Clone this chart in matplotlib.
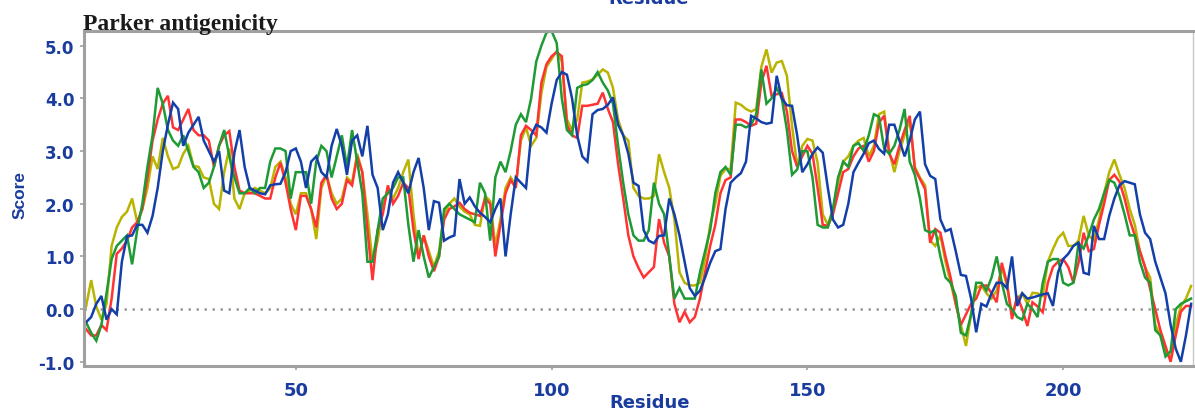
import numpy as np
import matplotlib
matplotlib.use("Agg")
import matplotlib.pyplot as plt

# Parker antigenicity profiles for four sequence variants (residues 9-225)
residues = np.arange(9, 226)

score_olive = [
    0.05, 0.55, 0.05, -0.2, 0.1, 1.2, 1.55, 1.75, 1.85, 2.1,
    1.65, 1.9, 2.3, 2.9, 2.66, 3.25, 2.9, 2.66, 2.7, 2.95,
    3.1, 2.72, 2.7, 2.5, 2.47, 2.0, 1.9, 2.6, 3.05, 2.1,
    1.9, 2.2, 2.25, 2.3, 2.25, 2.2, 2.3, 2.7, 2.8, 2.5,
    2.0, 1.8, 2.2, 2.2, 1.9, 1.33, 2.3, 2.55, 2.2, 2.0,
    2.1, 2.5, 2.4, 2.95, 2.6, 1.8, 0.9, 1.3, 1.9, 2.3,
    2.1, 2.3, 2.6, 2.84, 1.8, 1.0, 1.4, 1.1, 0.8, 1.1,
    1.8, 2.0, 2.1, 1.95, 1.85, 1.8, 1.6, 1.58, 2.15, 2.05,
    1.2, 1.7, 2.3, 2.5, 2.35, 3.2, 3.45, 3.1, 3.25, 4.1,
    4.6, 4.75, 4.9, 4.7, 3.6, 3.4, 3.6, 4.3, 4.32, 4.36,
    4.45, 4.55, 4.49, 4.2, 3.6, 3.3, 3.2, 2.3, 2.15, 2.1,
    2.1, 2.15, 2.94, 2.6, 2.3, 1.7, 0.7, 0.5, 0.45, 0.45,
    0.5, 0.95, 1.6, 2.0, 2.53, 2.66, 2.66, 3.92, 3.88, 3.8,
    3.75, 3.8, 4.6, 4.93, 4.49, 4.68, 4.71, 4.43, 3.48, 2.72,
    3.1, 3.23, 3.2, 2.78, 1.8, 1.6, 1.9, 2.4, 2.8, 2.9,
    3.1, 3.2, 3.25, 2.9, 3.1, 3.7, 3.75, 3.0, 2.6, 3.0,
    3.3, 3.6, 2.7, 2.5, 2.35, 1.3, 1.2, 1.4, 0.9, 0.5,
    0.1, -0.3, -0.7, -0.1, 0.4, 0.45, 0.3, 0.2, 0.35, 0.8,
    0.45, -0.1, 0.2, 0.3, 0.1, 0.31, 0.3, 0.25, 0.9, 1.14,
    1.35, 1.45, 1.2, 1.2, 1.3, 1.77, 1.4, 1.3, 1.7, 2.2,
    2.6, 2.84, 2.55, 2.3, 1.9, 1.6, 1.1, 0.8, 0.6, -0.3,
    -0.5, -0.8, -0.95, -0.3, 0.05, 0.2, 0.44,
]

score_red = [
    -0.38, -0.5, -0.5, -0.3, -0.4, 0.2, 1.05, 1.15, 1.3, 1.55,
    1.65, 1.9, 2.5, 3.2, 3.6, 3.9, 4.05, 3.45, 3.4, 3.6,
    3.8, 3.4, 3.3, 3.3, 3.2, 2.7, 3.1, 3.3, 3.38, 2.7,
    2.25, 2.2, 2.2, 2.2, 2.15, 2.1, 2.1, 2.5, 2.78, 2.4,
    1.9, 1.5, 2.15, 2.15, 1.9, 1.55, 2.4, 2.55, 2.1, 1.9,
    2.0, 2.45, 2.35, 2.9, 2.6, 1.5, 0.55, 1.5, 1.8, 2.35,
    2.0, 2.15, 2.4, 2.3, 1.5, 0.95, 1.4, 1.0, 0.72, 1.0,
    1.7, 1.9, 1.95, 2.02, 1.9, 1.83, 1.8, 1.77, 2.1, 2.0,
    1.0, 1.6, 2.2, 2.45, 2.3, 3.3, 3.48, 3.4, 3.3, 4.3,
    4.65, 4.8, 4.88, 4.8, 3.5, 3.3, 3.25, 3.86, 3.86, 3.88,
    3.9, 4.11, 3.8, 3.55, 2.75, 2.1, 1.4, 1.0, 0.78, 0.6,
    0.7, 0.8, 1.71, 1.26, 1.0, 0.1, -0.25, -0.05, -0.25, -0.15,
    0.2, 0.7, 1.2, 1.6, 2.2, 2.45, 2.5, 3.6, 3.6, 3.55,
    3.48, 3.52, 4.3, 4.62, 4.05, 4.08, 4.1, 3.75, 3.0, 2.7,
    2.9, 3.1, 2.95, 2.3, 1.6, 1.58, 1.8, 2.2, 2.6, 2.66,
    2.9, 3.05, 3.1, 2.8, 3.0, 3.54, 3.67, 2.95, 2.75, 3.1,
    3.4, 3.67, 2.66, 2.47, 2.28, 1.26, 1.52, 1.45, 1.0, 0.6,
    0.1, -0.3, -0.1, 0.1, 0.2, 0.44, 0.45, 0.3, 0.13, 0.88,
    0.5, -0.19, 0.25, 0.0, -0.32, 0.13, 0.05, -0.06, 0.5, 0.8,
    0.9, 0.95, 0.8, 0.5, 0.88, 1.45, 1.1, 1.14, 1.6, 2.0,
    2.45, 2.55, 2.42, 2.1, 1.7, 1.4, 1.1, 0.8, 0.38, 0.0,
    -0.4, -0.7, -1.0, -0.5, -0.05, 0.06, 0.06,
]

score_green = [
    -0.25, -0.45, -0.6, -0.3, 0.3, 0.95, 1.2, 1.3, 1.4, 0.85,
    1.5, 2.0, 2.7, 3.3, 4.2, 3.9, 3.4, 3.2, 3.1, 3.3,
    3.0, 2.7, 2.6, 2.3, 2.4, 2.7, 3.1, 3.4, 2.9, 2.5,
    2.2, 2.2, 2.3, 2.2, 2.3, 2.3, 2.8, 3.05, 3.05, 3.0,
    2.1, 2.6, 2.6, 2.6, 2.0, 2.8, 3.1, 3.0, 2.5, 2.9,
    3.3, 2.7, 3.4, 2.8, 2.2, 0.9, 0.9, 1.5, 2.1, 2.2,
    2.3, 2.5, 2.5, 1.6, 0.9, 1.5, 1.0, 0.6, 0.8, 1.0,
    1.9, 2.0, 1.9, 1.8, 1.75, 1.7, 1.65, 2.4, 2.2, 1.3,
    2.5, 2.8, 2.6, 3.0, 3.5, 3.7, 3.55, 4.0, 4.7, 5.0,
    5.25, 5.28, 5.05, 4.0, 3.4, 3.3, 4.2, 4.25, 4.27, 4.35,
    4.5, 4.3, 4.15, 3.9, 3.1, 2.4, 1.8, 1.4, 1.3, 1.3,
    1.5, 2.4, 2.0, 1.8, 1.0, 0.2, 0.4, 0.2, 0.2, 0.2,
    0.7, 1.1, 1.5, 2.2, 2.6, 2.7, 2.55, 3.5, 3.5, 3.45,
    3.5, 3.7, 4.55, 3.9, 4.0, 4.2, 4.0, 3.4, 2.55, 2.65,
    3.0, 3.0, 2.5, 1.6, 1.55, 1.55, 1.9, 2.5, 2.8, 2.7,
    3.1, 3.15, 3.0, 3.3, 3.7, 3.65, 3.05, 2.95, 3.1, 3.4,
    3.8, 2.8, 2.55, 2.1, 1.5, 1.45, 1.5, 1.0, 0.6, 0.5,
    0.25, -0.45, -0.5, -0.1, 0.5, 0.5, 0.35, 0.6, 1.0, 0.5,
    0.1, 0.0, -0.15, -0.2, 0.1, 0.0, -0.15, 0.5, 0.9, 0.95,
    0.95, 0.5, 0.45, 0.5, 1.25, 1.15, 1.4, 1.7, 1.9, 2.2,
    2.45, 2.4, 2.15, 1.8, 1.4, 1.4, 0.9, 0.6, 0.5, -0.4,
    -0.5, -0.9, -0.8, 0.0, 0.1, 0.15, 0.2,
]

score_blue = [
    -0.25, -0.15, 0.1, 0.25, -0.2, 0.0, -0.1, 0.9, 1.38, 1.4,
    1.6, 1.6, 1.45, 1.77, 2.3, 3.0, 3.5, 3.92, 3.8, 3.1,
    3.35, 3.5, 3.65, 3.2, 3.0, 2.8, 3.0, 2.25, 2.2, 2.97,
    3.4, 2.7, 2.3, 2.25, 2.2, 2.18, 2.35, 2.37, 2.38, 2.6,
    3.0, 3.05, 2.8, 2.3, 2.8, 2.9, 2.6, 2.5, 3.1, 3.42,
    3.1, 2.55, 3.2, 3.3, 2.9, 3.48, 2.55, 2.3, 1.5, 1.8,
    2.4, 2.6, 2.4, 2.2, 2.6, 2.87, 2.3, 1.5, 2.05, 2.02,
    1.3, 1.36, 1.4, 2.47, 2.0, 2.12, 1.95, 1.83, 1.75, 1.65,
    1.9, 2.1, 1.0, 1.8, 2.5, 2.4, 2.3, 3.3, 3.5, 3.45,
    3.35, 3.9, 4.35, 4.5, 4.45, 4.0, 3.3, 2.9, 2.8, 3.7,
    3.78, 3.8, 3.88, 4.02, 3.5, 3.3, 2.95, 2.4, 2.34, 1.5,
    1.3, 1.25, 1.39, 1.4, 2.1, 1.8, 1.4, 0.9, 0.4, 0.25,
    0.35, 0.6, 0.88, 1.1, 1.14, 1.9, 2.4, 2.5, 2.58, 2.8,
    3.67, 3.62, 3.55, 3.52, 3.54, 4.43, 4.0, 3.87, 3.86, 3.3,
    2.6, 2.75, 2.95, 3.07, 2.97, 2.3, 1.7, 1.55, 1.6, 2.0,
    2.6, 2.78, 2.95, 3.15, 3.2, 3.04, 2.95, 3.5, 3.5, 3.2,
    2.9, 3.2, 3.6, 3.75, 2.75, 2.53, 2.47, 1.7, 1.48, 1.52,
    1.1, 0.65, 0.63, 0.2, -0.44, 0.1, 0.05, 0.3, 0.5, 0.5,
    0.4, 1.0, 0.06, 0.3, 0.2, 0.22, 0.25, 0.28, 0.3, 0.06,
    0.7, 0.95, 1.05, 1.2, 1.26, 0.69, 0.66, 1.58, 1.33, 1.33,
    1.77, 2.1, 2.35, 2.43, 2.4, 2.37, 1.8, 1.45, 1.33, 0.9,
    0.6, 0.3, -0.3, -0.75, -1.0, -0.5, 0.1,
]

series = [
    (score_olive, "#b8b400"),
    (score_red, "#ff3333"),
    (score_green, "#1f9a35"),
    (score_blue, "#1340a8"),
]

xticks = [50, 100, 150, 200]
yticks = [-1.0, 0.0, 1.0, 2.0, 3.0, 4.0, 5.0]

label_blue = "#1a3c9e"
frame_grey = "#a0a0a0"
label_font = "DejaVu Sans"

fig = plt.figure(figsize=(11.95, 4.14), dpi=100)
ax = fig.add_axes([0.0703, 0.1135, 0.9277, 0.8092])

# dotted baseline at zero
ax.axhline(0.0, color="#9a9a9a", lw=1.8, linestyle=(0, (1, 2.2)), zorder=1)

for values, colour in series:
    ax.plot(residues, values, color=colour, lw=1.8, solid_joinstyle="miter", zorder=2)

ax.set_xlim(8.6, 225.3)
ax.set_ylim(-1.08, 5.28)

ax.set_xticks(xticks)
ax.set_xticklabels([str(t) for t in xticks])
ax.set_yticks(yticks)
ax.set_yticklabels(["%.1f" % t for t in yticks])

for lab in ax.get_xticklabels():
    lab.set_fontfamily(label_font)
    lab.set_fontweight("bold")
    lab.set_fontsize(13)
    lab.set_color(label_blue)
for lab in ax.get_yticklabels():
    lab.set_fontfamily(label_font)
    lab.set_fontweight("bold")
    lab.set_fontsize(12)
    lab.set_color(label_blue)

ax.tick_params(axis="both", direction="out", length=3, width=1.2, color=frame_grey)
ax.tick_params(axis="x", pad=8)
ax.tick_params(axis="y", pad=4)

for side in ["left", "top", "bottom"]:
    ax.spines[side].set_color(frame_grey)
    ax.spines[side].set_linewidth(2.2)
ax.spines["right"].set_color("#c8c8c8")
ax.spines["right"].set_linewidth(1.0)

ax.set_xlabel("Residue", fontfamily=label_font, fontweight="bold", fontsize=13,
              color=label_blue, va="center")
ax.xaxis.set_label_coords(0.51, -0.108)
ax.set_ylabel("Score", fontfamily="Liberation Sans", fontweight="bold", fontsize=12.5,
              color=label_blue, va="center")
ax.yaxis.set_label_coords(-0.058, 0.513)

# header above the frame, and the axis caption of the panel above it (cut by the edge)
fig.text(0.0695, 0.9275, "Parker antigenicity", fontfamily="Liberation Serif",
         fontweight="bold", fontsize=17, color="#1a1a1a", ha="left", va="baseline")
fig.text(0.543, 0.99, "Residue", fontfamily=label_font, fontweight="bold",
         fontsize=13, color=label_blue, ha="center", va="baseline")

fig.savefig("out.png", dpi=100)
